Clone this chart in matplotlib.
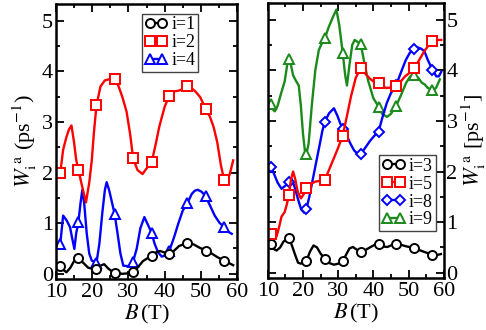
import matplotlib
matplotlib.use('Agg')
import matplotlib.pyplot as plt
from matplotlib.lines import Line2D
from matplotlib.ticker import MultipleLocator

plt.rcParams['font.family'] = ['Liberation Serif', 'DejaVu Serif']
plt.rcParams['mathtext.fontset'] = 'stix'

# ---- left panel: i=1, i=2, i=4 ----
B1 = [10.8, 11.2, 12.0, 12.9, 14.0, 15.0, 16.2, 17.5, 18.9, 20.0, 21.2, 22.3, 23.3, 24.5,
      26.2, 28.5, 30.0, 31.3, 32.5, 34.0, 36.4, 37.5, 38.7, 40.0, 41.3, 42.5, 44.0, 46.3,
      48.0, 49.5, 51.3, 53.0, 54.5, 56.4, 58.9]
W1 = [0.17, 0.15, 0.08, 0.03, 0.12, 0.25, 0.32, 0.22, 0.12, 0.1, 0.09, 0.16, 0.19, 0.1,
      0.01, 0.0, 0.01, 0.03, 0.12, 0.25, 0.36, 0.42, 0.45, 0.42, 0.39, 0.45, 0.55, 0.61,
      0.58, 0.52, 0.46, 0.4, 0.33, 0.26, 0.17]

B2 = [10.8, 11.2, 12.0, 12.9, 13.6, 14.3, 15.0, 15.6, 16.2, 17.0, 18.3, 19.2, 19.9, 20.5,
      21.2, 22.3, 23.5, 24.5, 26.2, 27.2, 28.3, 29.5, 30.5, 31.3, 32.5, 33.9, 35.0, 36.4,
      37.5, 38.5, 40.0, 41.3, 42.5, 44.0, 45.0, 46.3, 47.5, 48.5, 49.8, 51.3, 52.5, 53.5,
      54.5, 55.5, 56.4, 57.2, 58.0, 58.9]
W2 = [2.0, 1.99, 2.45, 2.7, 2.85, 2.93, 2.6, 2.25, 2.06, 1.8, 1.41, 1.8, 2.24, 2.8,
      3.33, 3.7, 3.82, 3.84, 3.85, 3.72, 3.5, 3.2, 2.75, 2.28, 2.05, 1.97, 2.08, 2.2,
      2.55, 2.9, 3.3, 3.52, 3.6, 3.62, 3.65, 3.7, 3.66, 3.6, 3.49, 3.26, 3.1, 2.9,
      2.6, 2.15, 1.85, 1.82, 1.98, 2.24]

B4 = [10.8, 11.2, 12.0, 13.0, 13.9, 14.5, 15.1, 15.6, 16.2, 16.8, 17.3, 17.8, 18.5, 19.2,
      19.9, 21.2, 22.0, 22.8, 23.5, 24.0, 24.7, 25.5, 26.2, 27.0, 27.8, 28.6, 30.0, 31.3,
      32.3, 33.3, 34.4, 35.5, 36.4, 37.2, 38.2, 39.2, 40.2, 41.3, 42.5, 43.8, 45.0, 46.3,
      47.5, 48.3, 49.1, 50.2, 51.3, 52.5, 53.8, 55.2, 56.4, 57.5, 58.5]
W4 = [0.55, 0.59, 1.15, 1.05, 0.92, 0.7, 0.49, 0.8, 1.02, 1.4, 1.66, 1.4, 0.8, 0.4,
      0.26, 0.22, 0.6, 1.2, 1.65, 1.81, 1.65, 1.4, 1.18, 0.8, 0.4, 0.16, 0.15, 0.24,
      0.5, 0.9, 1.12, 0.95, 0.81, 0.6, 0.42, 0.34, 0.36, 0.46, 0.7, 1.0, 1.25, 1.4,
      1.58, 1.64, 1.66, 1.62, 1.53, 1.35, 1.15, 1.0, 0.93, 0.83, 0.79]

BmL = [11.2, 16.2, 21.2, 26.2, 31.3, 36.4, 41.3, 46.3, 51.3, 56.4]
m1 = [0.15, 0.32, 0.09, 0.01, 0.03, 0.36, 0.39, 0.61, 0.46, 0.26]
m2 = [1.99, 2.06, 3.33, 3.85, 2.28, 2.2, 3.52, 3.7, 3.26, 1.85]
m4 = [0.59, 1.02, 0.22, 1.18, 0.24, 0.81, 0.46, 1.4, 1.53, 0.93]

# ---- right panel: i=3, i=5, i=8, i=9 ----
B3 = [10.6, 10.9, 11.7, 12.5, 13.5, 14.5, 16.0, 16.8, 17.8, 18.6, 19.4, 21.0, 22.0, 23.0,
      24.0, 25.0, 26.2, 27.2, 28.8, 30.0, 31.3, 32.2, 33.2, 34.2, 35.2, 36.4, 37.5, 39.0,
      40.3, 41.5, 42.6, 44.0, 45.3, 46.5, 48.0, 49.5, 51.6, 53.0, 55.0, 56.8, 58.0, 59.2]
W3 = [0.6, 0.57, 0.47, 0.44, 0.5, 0.62, 0.69, 0.55, 0.35, 0.2, 0.18, 0.24, 0.42, 0.54,
      0.5, 0.38, 0.28, 0.2, 0.16, 0.18, 0.23, 0.35, 0.48, 0.51, 0.46, 0.41, 0.44, 0.5,
      0.55, 0.56, 0.52, 0.51, 0.55, 0.56, 0.55, 0.52, 0.49, 0.45, 0.4, 0.36, 0.35, 0.37]

B5 = [10.6, 10.9, 11.7, 12.5, 13.2, 13.9, 14.8, 15.4, 16.0, 16.6, 17.2, 17.8, 18.5, 19.4,
      20.2, 21.0, 22.0, 23.5, 25.0, 26.2, 27.5, 28.7, 30.0, 31.3, 32.5, 33.7, 35.0, 36.4,
      37.5, 38.8, 40.0, 41.5, 42.5, 43.7, 45.0, 46.5, 47.8, 49.0, 50.3, 51.6, 53.0, 54.5,
      55.8, 56.8, 58.0, 59.3]
W5 = [0.78, 0.77, 0.7, 0.72, 0.9, 1.11, 1.2, 1.35, 1.53, 1.85, 2.0, 1.85, 1.6, 1.47,
      1.55, 1.68, 1.75, 1.8, 1.82, 1.83, 2.05, 2.25, 2.47, 2.71, 3.1, 3.5, 3.85, 4.04,
      3.95, 3.85, 3.78, 3.74, 3.68, 3.65, 3.66, 3.69, 3.78, 3.88, 3.95, 4.04, 4.2, 4.38,
      4.5, 4.57, 4.6, 4.6]

B8 = [10.6, 10.9, 11.8, 12.8, 13.9, 15.0, 16.0, 16.8, 17.6, 18.6, 19.5, 20.3, 21.0, 21.8,
      22.8, 23.8, 24.8, 25.5, 26.2, 27.4, 28.8, 29.8, 30.6, 31.3, 32.5, 33.5, 34.5, 35.5,
      36.4, 37.5, 39.0, 40.2, 41.5, 42.5, 43.8, 45.0, 46.5, 47.8, 49.2, 50.4, 51.6, 52.6,
      53.5, 54.5, 55.5, 56.8, 57.9, 58.6, 59.3]
W8 = [2.1, 2.09, 1.95, 1.78, 1.66, 1.72, 1.8, 1.85, 1.7, 1.45, 1.25, 1.19, 1.27, 1.5,
      1.85, 2.2, 2.55, 2.8, 2.98, 3.15, 3.25, 3.1, 2.95, 2.84, 2.7, 2.55, 2.42, 2.35,
      2.35, 2.45, 2.6, 2.7, 2.79, 3.05, 3.35, 3.55, 3.71, 3.95, 4.2, 4.35, 4.42, 4.45,
      4.43, 4.38, 4.2, 4.01, 3.88, 3.88, 3.97]

B9 = [10.6, 10.9, 11.5, 12.0, 12.8, 13.8, 14.8, 15.5, 16.0, 16.6, 17.2, 18.1, 18.8, 19.4,
      20.0, 20.6, 21.0, 21.6, 22.5, 23.5, 24.5, 25.5, 26.2, 27.3, 28.5, 29.5, 30.3, 31.3,
      32.0, 32.5, 33.2, 34.0, 34.7, 36.4, 37.3, 38.5, 40.0, 41.5, 42.5, 43.9, 45.0, 46.5,
      47.8, 49.3, 50.5, 51.6, 52.8, 53.7, 54.6, 55.5, 56.8, 57.8, 58.9]
W9 = [3.3, 3.33, 3.22, 3.19, 3.3, 3.55, 3.78, 4.1, 4.22, 4.1, 3.9, 3.78, 3.7, 3.3,
      2.75, 2.38, 2.35, 2.55, 3.3, 4.0, 4.4, 4.55, 4.63, 4.85, 5.05, 5.2, 4.9, 4.34,
      3.9, 3.7, 4.1, 4.5, 4.6, 4.52, 4.2, 3.8, 3.45, 3.28, 3.14, 3.08, 3.14, 3.3,
      3.5, 3.75, 3.88, 3.9, 3.85, 3.76, 3.72, 3.65, 3.61, 3.65, 3.82]

BmR = [10.9, 16.0, 21.0, 26.2, 31.3, 36.4, 41.5, 46.5, 51.6, 56.8]
m3 = [0.57, 0.69, 0.24, 0.28, 0.23, 0.41, 0.56, 0.56, 0.49, 0.36]
m5 = [0.77, 1.53, 1.68, 1.83, 2.71, 4.04, 3.74, 3.69, 4.04, 4.57]
m8 = [2.09, 1.8, 1.27, 2.98, 2.84, 2.35, 2.79, 3.71, 4.42, 4.01]
m9 = [3.33, 4.22, 2.35, 4.63, 4.34, 4.52, 3.28, 3.3, 3.9, 3.61]

GREEN = '#1a8a1a'
lw = 1.7


def style(ax):
    ax.set_xlim(10, 60)
    ax.set_ylim(-0.1, 5.33)
    ax.xaxis.set_major_locator(MultipleLocator(10))
    ax.xaxis.set_minor_locator(MultipleLocator(5))
    ax.yaxis.set_major_locator(MultipleLocator(1))
    ax.yaxis.set_minor_locator(MultipleLocator(0.5))
    ax.tick_params(which='both', direction='in', top=True, right=True,
                   width=1.3, labelsize=16, pad=2)
    ax.tick_params(axis='x', which='both', pad=3)
    ax.tick_params(which='major', length=6)
    ax.tick_params(which='minor', length=3)
    for s in ax.spines.values():
        s.set_linewidth(1.8)
    ax.set_xlabel(r'$B\,$(T)', fontsize=16, labelpad=0.5)


def series(ax, B, W, Bm, Wm, color, marker, ms=6.5):
    ax.plot(B, W, '-', color=color, lw=lw)
    ax.plot(Bm, Wm, linestyle='none', marker=marker, ms=ms, mfc='white',
            mec=color, mew=1.4)
    return Line2D([], [], color=color, lw=lw, marker=marker, ms=ms,
                  mfc='white', mec=color, mew=1.4)


fig = plt.figure(figsize=(4.86, 3.3), dpi=100)
ax1 = fig.add_axes([0.115, 0.155, 0.373, 0.833])
ax2 = fig.add_axes([0.551, 0.158, 0.362, 0.833])

h4 = series(ax1, B4, W4, BmL, m4, 'blue', '^')
h1 = series(ax1, B1, W1, BmL, m1, 'black', 'o')
h2 = series(ax1, B2, W2, BmL, m2, 'red', 's')
style(ax1)
ax1.set_ylabel(r'$W_{\mathrm{i}}^{\ \mathrm{a}}$ (ps$^{-1}$)', fontsize=16, labelpad=2)
ax1.legend([h1, h2, h4], ['i=1', 'i=2', 'i=4'], loc='upper right',
           bbox_to_anchor=(0.785, 0.965), fontsize=13, numpoints=2, handlelength=1.3,
           handletextpad=0.2, labelspacing=0.05, borderpad=0.15, borderaxespad=0,
           fancybox=False, framealpha=1, edgecolor='#444444')

h3 = series(ax2, B3, W3, BmR, m3, 'black', 'o')
h9 = series(ax2, B9, W9, BmR, m9, GREEN, '^')
h8 = series(ax2, B8, W8, BmR, m8, 'blue', 'D', ms=5.5)
h5 = series(ax2, B5, W5, BmR, m5, 'red', 's')
style(ax2)
ax2.tick_params(which='both', labelleft=False, labelright=True)
ax2.yaxis.set_label_position('right')
ax2.set_ylabel(r'$W_{\mathrm{i}}^{\ \mathrm{a}}$ [ps$^{-1}$]', fontsize=16, labelpad=1)
ax2.legend([h3, h5, h8, h9], ['i=3', 'i=5', 'i=8', 'i=9'], loc='lower right',
           bbox_to_anchor=(0.955, 0.17), fontsize=13, numpoints=2, handlelength=1.3,
           handletextpad=0.2, labelspacing=0.05, borderpad=0.15, borderaxespad=0,
           fancybox=False, framealpha=1, edgecolor='#444444')

fig.savefig('out.png', dpi=100)
